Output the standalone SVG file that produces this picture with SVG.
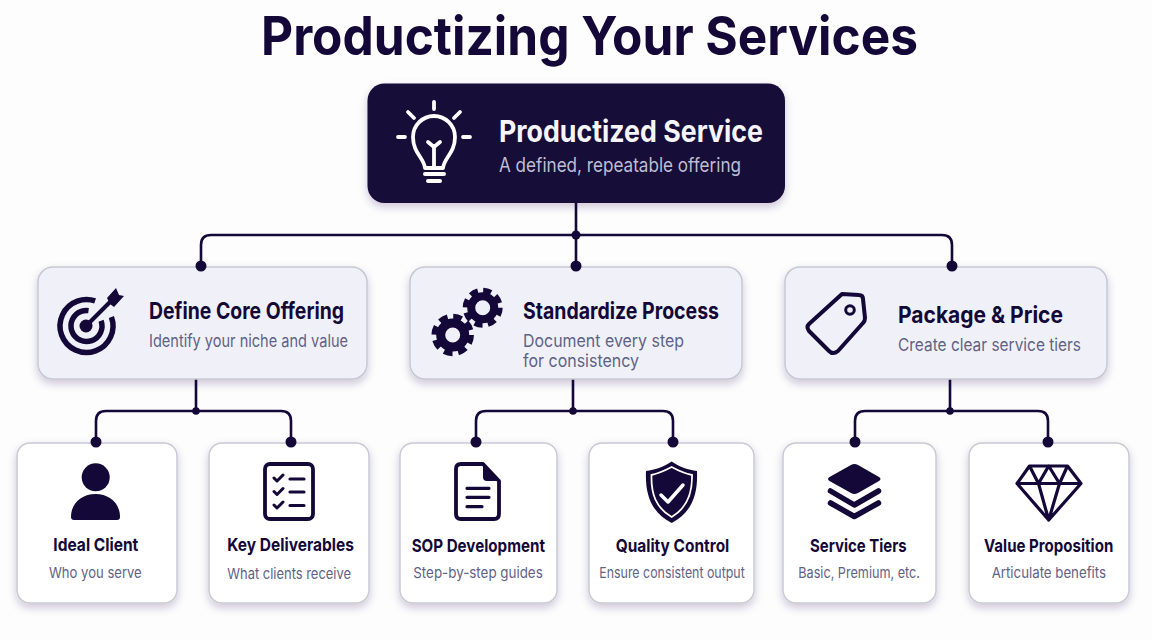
<svg xmlns="http://www.w3.org/2000/svg" width="1152" height="640" viewBox="0 0 1152 640">
<defs>
<filter id="sh" x="-15%" y="-15%" width="130%" height="140%"><feDropShadow dx="0" dy="4" stdDeviation="4" flood-color="#1a0f4a" flood-opacity="0.22"/></filter>
</defs>
<style>
text{font-family:Inter,"Liberation Sans",sans-serif}
.wire{fill:none;stroke:#130838;stroke-width:2.6}
.dot{fill:#130838}
.mid{fill:#f0f1f8;stroke:#c6c7d2;stroke-width:1.5;filter:url(#sh)}
.leaf{fill:#fff;stroke:#c9cad4;stroke-width:1.5;filter:url(#sh)}
.ttl{fill:#130838;font-weight:700}
.sub{fill:#5f6285;font-weight:400}
.m1{font-size:23px}.m2{font-size:17.5px}
.l1{font-size:18px}.l2{font-size:15px}
.ln{fill:none;stroke:#130838;stroke-width:4;stroke-linecap:round;stroke-linejoin:round}
.fl{fill:#130838}
.wl{fill:none;stroke:#fff;stroke-width:3.5;stroke-linecap:round;stroke-linejoin:round}
</style>
<rect width="1152" height="640" fill="#fdfdfe"/>
<text id="title" x="261" y="55" font-size="53" font-weight="700" fill="#130838" textLength="657" lengthAdjust="spacingAndGlyphs">Productizing Your Services</text>

<g id="connectors">
<path class="wire" d="M576 203V266M201 266V245Q201 235 211 235H942Q952 235 952 245V266"/>
<path class="wire" d="M196 379V411M96 442V421Q96 411 106 411H281Q291 411 291 421V442"/>
<path class="wire" d="M573 379V411M476 442V421Q476 411 486 411H663Q673 411 673 421V442"/>
<path class="wire" d="M950 379V411M855 442V421Q855 411 865 411H1038Q1048 411 1048 421V442"/>
</g>

<g id="root">
<rect x="367.5" y="83.500" width="417.500" height="119.500" rx="17" fill="#130838" filter="url(#sh)"/>
<g fill="none" stroke="#fff" stroke-width="3.800" stroke-linecap="round" stroke-linejoin="round">
<path d="M434 102V109M408 112L414 118M460 112L454 118M398 137H405M463 137H470"/>
<path d="M425 168C424 158 413 153 413 137A21 21 0 0 1 455 137C455 153 444 158 443 168Z"/>
<path d="M434 168V146M428 142L434 147L440 142"/>
<path d="M425 174H444M428 181H440" stroke-width="4"/>
</g>
<text x="499" y="142" font-size="30" font-weight="700" fill="#f6f5fb" textLength="264" lengthAdjust="spacingAndGlyphs">Productized Service</text>
<text x="499" y="172" font-size="19.500" fill="#bfbdd3" textLength="242" lengthAdjust="spacingAndGlyphs">A defined, repeatable offering</text>
</g>

<g id="define-core">
<rect class="mid" x="38" y="267" width="329" height="112" rx="15"/>
<circle cx="86.500" cy="326" r="26.500" fill="none" stroke="#130838" stroke-width="5.500" stroke-dasharray="142 24" transform="rotate(-20 86.500 326)"/>
<circle cx="86.500" cy="326" r="15.500" fill="none" stroke="#130838" stroke-width="5.500" stroke-dasharray="80 18" transform="rotate(-20 86.500 326)"/>
<circle class="fl" cx="86" cy="326" r="6.500"/>
<path d="M86 326L112 300" fill="none" stroke="#130838" stroke-width="4"/>
<path class="fl" d="M107 298L116 288L119 295L124 296L114 307L110 304Z"/>
<text class="ttl m1" x="149" y="319" textLength="195" lengthAdjust="spacingAndGlyphs">Define Core Offering</text>
<text class="sub m2" x="149" y="347" textLength="199" lengthAdjust="spacingAndGlyphs">Identify your niche and value</text>
</g>

<g id="standardize">
<rect class="mid" x="410" y="267" width="332" height="112" rx="15"/>
<g fill="none" stroke="#130838">
<circle cx="482.700" cy="307.700" r="11.500" stroke-width="8"/>
<circle cx="482.700" cy="307.700" r="17" stroke-width="6" stroke-dasharray="8 5.350"/>
<circle cx="452.700" cy="335" r="12" stroke-width="9"/>
<circle cx="452.700" cy="335" r="18" stroke-width="6.500" stroke-dasharray="8.500 5.640"/>
</g>
<text class="ttl m1" x="523" y="319" textLength="196" lengthAdjust="spacingAndGlyphs">Standardize Process</text>
<text class="sub m2" x="523" y="347" textLength="161" lengthAdjust="spacingAndGlyphs">Document every step</text>
<text class="sub m2" x="523" y="367" textLength="116" lengthAdjust="spacingAndGlyphs">for consistency</text>
</g>

<g id="package">
<rect class="mid" x="785" y="267" width="322" height="112" rx="15"/>
<path class="ln" d="M842 294L859 295Q863 295 863 299L865 318Q865 321 863 323L838 351Q833 355 829 351L809 331Q806 327 809 324Z"/>
<circle cx="850" cy="310" r="4.300" fill="none" stroke="#130838" stroke-width="3"/>
<text class="ttl m1" x="898" y="323" textLength="165" lengthAdjust="spacingAndGlyphs">Package &amp; Price</text>
<text class="sub m2" x="898" y="351" textLength="183" lengthAdjust="spacingAndGlyphs">Create clear service tiers</text>
</g>

<g id="ideal-client">
<rect class="leaf" x="17" y="443" width="160" height="160" rx="13"/>
<circle class="fl" cx="95.700" cy="477.300" r="14"/>
<path class="fl" d="M71 517C71 503 82 494 95.500 494C109 494 120 503 120 517Q120 520 117 520H74Q71 520 71 517Z"/>
<text class="ttl l1" x="53.300" y="551" textLength="85" lengthAdjust="spacingAndGlyphs">Ideal Client</text>
<text class="sub l2" x="49" y="578" textLength="92.700" lengthAdjust="spacingAndGlyphs">Who you serve</text>
</g>

<g id="key-deliverables">
<rect class="leaf" x="209" y="443" width="160" height="160" rx="13"/>
<rect x="265" y="464" width="48" height="55" rx="5" fill="none" stroke="#130838" stroke-width="3.800"/>
<path d="M274 478L277 481L283 475M274 491.500L277 494.500L283 488.500M274 505L277 508L283 502" fill="none" stroke="#130838" stroke-width="3" stroke-linecap="round" stroke-linejoin="round"/>
<path d="M290 479H304M290 492H304M290 505.500H304" fill="none" stroke="#130838" stroke-width="3.200" stroke-linecap="round"/>
<text class="ttl l1" x="227.300" y="551" textLength="126.700" lengthAdjust="spacingAndGlyphs">Key Deliverables</text>
<text class="sub l2" x="227.300" y="579" textLength="123.700" lengthAdjust="spacingAndGlyphs">What clients receive</text>
</g>

<g id="sop-development">
<rect class="leaf" x="400" y="443" width="157" height="160" rx="13"/>
<path d="M461 464H483L499 481V514Q499 519 494 519H461Q456 519 456 514V469Q456 464 461 464Z" fill="none" stroke="#130838" stroke-width="3.800" stroke-linejoin="round"/>
<path class="fl" d="M483 463L500 481H487Q483 481 483 477Z"/>
<path d="M467 488.300H489M467 497.300H489M467 506.700H482" fill="none" stroke="#130838" stroke-width="3.200" stroke-linecap="round"/>
<text class="ttl l1" x="411.700" y="552" textLength="133.300" lengthAdjust="spacingAndGlyphs">SOP Development</text>
<text class="sub l2" x="413.300" y="578" textLength="129.400" lengthAdjust="spacingAndGlyphs">Step-by-step guides</text>
</g>

<g id="quality-control">
<rect class="leaf" x="589" y="443" width="165" height="160" rx="13"/>
<path class="fl" d="M671.700 461.500C680 467 688 470 697 471C698 495 692 512 671.700 523C651 512 645 495 646 471C655 470 663 467 671.700 461.500Z"/>
<path d="M671.700 467C679 471 685 473.500 692 475C692.500 494 687 508 671.700 517C656 508 651 494 651.500 475C658 473.500 664 471 671.700 467Z" fill="none" stroke="#fff" stroke-width="1.800"/>
<path class="wl" d="M661 495L668 502L683 485"/>
<text class="ttl l1" x="615.700" y="552" textLength="113.600" lengthAdjust="spacingAndGlyphs">Quality Control</text>
<text class="sub l2" x="599.300" y="578" textLength="145.400" lengthAdjust="spacingAndGlyphs">Ensure consistent output</text>
</g>

<g id="service-tiers">
<rect class="leaf" x="783" y="443" width="153" height="160" rx="13"/>
<path class="fl" d="M851 465Q854.300 463 858 465L879 477Q882 479 879 481L858 493Q854.300 495 851 493L829.500 481Q826.500 479 829.500 477Z"/>
<path d="M830.500 491L854.300 505L878.500 491M830.500 503L854.300 516.500L878.500 503" fill="none" stroke="#130838" stroke-width="5.500" stroke-linecap="round" stroke-linejoin="round"/>
<text class="ttl l1" x="810" y="552" textLength="96.700" lengthAdjust="spacingAndGlyphs">Service Tiers</text>
<text class="sub l2" x="798.300" y="578" textLength="121.700" lengthAdjust="spacingAndGlyphs">Basic, Premium, etc.</text>
</g>

<g id="value-proposition">
<rect class="leaf" x="969" y="443" width="160" height="160" rx="13"/>
<path d="M1029.500 466H1067.500L1081 483.500L1048.700 520L1017 483.500ZM1017 483.500H1081M1029.500 466L1038.500 483.500L1048.700 466L1059.500 483.500L1067.500 466M1038.500 483.500L1048.700 520L1059.500 483.500" fill="none" stroke="#130838" stroke-width="3.200" stroke-linejoin="round"/>
<text class="ttl l1" x="984" y="552" textLength="129.300" lengthAdjust="spacingAndGlyphs">Value Proposition</text>
<text class="sub l2" x="991.700" y="578" textLength="114.300" lengthAdjust="spacingAndGlyphs">Articulate benefits</text>
</g>

<g id="connector-dots">
<circle class="dot" cx="576" cy="235" r="4.500"/><circle class="dot" cx="201" cy="266" r="5.500"/><circle class="dot" cx="576" cy="266" r="5.500"/><circle class="dot" cx="952" cy="266" r="5.500"/>
<circle class="dot" cx="196" cy="411" r="3.800"/><circle class="dot" cx="96" cy="442" r="5.500"/><circle class="dot" cx="291" cy="442" r="5.500"/>
<circle class="dot" cx="573" cy="411" r="3.800"/><circle class="dot" cx="476" cy="442" r="5.500"/><circle class="dot" cx="673" cy="442" r="5.500"/>
<circle class="dot" cx="950" cy="411" r="3.800"/><circle class="dot" cx="855" cy="442" r="5.500"/><circle class="dot" cx="1048" cy="442" r="5.500"/>
</g>
</svg>
